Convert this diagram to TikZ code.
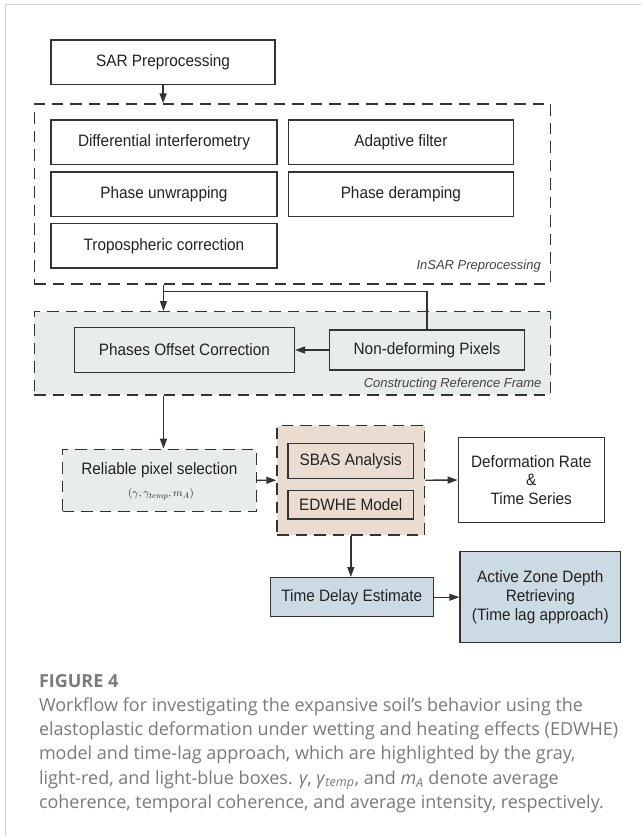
\documentclass[tikz,border=0pt]{standalone}
\usepackage{fontspec}
\setmainfont{Liberation Sans}
\newfontfamily\capfont{Open Sans}
\newfontfamily\diagfont[FakeStretch=0.93]{Liberation Sans}
\usetikzlibrary{arrows.meta}
\definecolor{ln}{HTML}{333333}
\definecolor{tx}{HTML}{222222}
\definecolor{grayfill}{HTML}{E8EDEA}
\definecolor{redfill}{HTML}{EBDCD2}
\definecolor{bluefill}{HTML}{CCDAE4}
\definecolor{capcol}{HTML}{7A7A7A}
\definecolor{framecol}{HTML}{D4D4D4}
\tikzset{
  box/.style={draw=ln, line width=1.4pt, inner sep=0pt, text=tx, align=center,
    font=\diagfont\fontsize{16.5}{18.7}\selectfont},
  dbox/.style={draw=ln, line width=1.4pt, inner sep=0pt, dash pattern=on 11.5pt off 7pt},
  arr/.style={draw=ln, line width=1.4pt, -{Triangle[length=10pt,width=7pt]}},
  conn/.style={draw=ln, line width=1.4pt},
  grouplabel/.style={anchor=east, inner sep=0pt, text=tx!85,
    font=\fontsize{13}{15}\selectfont\itshape},
  capline/.style={anchor=base west, inner sep=0pt, text=capcol,
    font=\capfont\fontsize{18}{24}\selectfont}
}
\begin{document}
\begin{tikzpicture}[x=1pt,y=-1pt]
\useasboundingbox (0,0) rectangle (641,836);
\fill[white] (0,0) rectangle (641,836);
\draw[framecol, line width=1.3pt] (5.7,836) -- (5.7,4.7) -- (641,4.7);

% group frames
\node[dbox, minimum width=516.4pt, minimum height=180pt] (insar) at (292.5,194) {};
\node[dbox, fill=grayfill, minimum width=516.4pt, minimum height=83.3pt] (crf) at (292.5,353.35) {};
\node[dbox, fill=grayfill, minimum width=193.8pt, minimum height=62pt] (rel) at (159.4,480.3) {};
\node[dbox, fill=redfill, minimum width=147.7pt, minimum height=109.5pt] (sbasout) at (350.85,480.25) {};

% boxes
\node[box, minimum width=224pt, minimum height=44.7pt] (sar) at (163.1,62.3) {SAR Preprocessing};
\node[box, minimum width=225.7pt, minimum height=44.7pt] (diff) at (164,142.3) {Differential interferometry};
\node[box, minimum width=225.3pt, minimum height=44.7pt] (adapt) at (400.9,142.3) {Adaptive filter};
\node[box, minimum width=225.7pt, minimum height=44.7pt] (unwrap) at (164,194.2) {Phase unwrapping};
\node[box, minimum width=225.3pt, minimum height=44.7pt] (deramp) at (400.9,194.2) {Phase deramping};
\node[box, minimum width=225.7pt, minimum height=44.7pt] (tropo) at (164,245.8) {Tropospheric correction};
\node[box, minimum width=220pt, minimum height=44.6pt] (poc) at (184.4,350) {Phases Offset Correction};
\node[box, minimum width=195pt, minimum height=40pt] (ndp) at (427,350) {Non-deforming Pixels};
\node[box, fill=redfill, minimum width=125.5pt, minimum height=35pt] (sbas) at (350.75,460.8) {SBAS Analysis};
\node[box, fill=redfill, minimum width=125.5pt, minimum height=28.5pt] (edwhe) at (350.75,504.75) {EDWHE Model};
\node[box, minimum width=145.9pt, minimum height=85.4pt] (defo) at (531.25,480) {Deformation Rate\\\&\\Time Series};
\node[box, fill=bluefill, minimum width=163.2pt, minimum height=39pt] (tde) at (351.8,597.2) {Time Delay Estimate};
\node[box, fill=bluefill, minimum width=160.6pt, minimum height=91pt] (azd) at (540.3,597.2) {Active Zone Depth\\Retrieving\\(Time lag approach)};

% texts inside reliable pixel box
\node[inner sep=0pt, text=tx, font=\diagfont\fontsize{16.5}{18.7}\selectfont] (reltxt) at (159.4,470) {Reliable pixel selection};
\node[inner sep=0pt, text=tx, font=\fontsize{11}{12}\selectfont] (relmath) at (161,494) {$(\gamma,\gamma_{temp},m_A)$};

% group labels
\node[grouplabel] (insarlab) at (541,266) {InSAR Preprocessing};
\node[grouplabel] (crflab) at (541.7,384.3) {Constructing Reference Frame};

% connectors
\coordinate (j) at (163.5,291.7);
\draw[arr] (sar.south) -- (sar.south |- insar.north);
\draw[arr] (j |- insar.south) -- (j |- crf.north);
\draw[conn] (ndp.north) |- (j);
\draw[arr] (ndp.west) -- (poc.east);
\draw[arr] (j |- crf.south) -- (j |- rel.north);
\draw[arr] (rel.east) -- (sbasout.west);
\draw[arr] (sbasout.east) -- (defo.west);
\draw[arr] (sbasout.south) -- (sbasout.south |- tde.north);
\draw[arr] (tde.east) -- (azd.west);

% caption
\node[capline, font=\capfont\bfseries\fontsize{18}{24}\selectfont, text=capcol] (fig) at (38.8,687.3) {FIGURE 4};
\node[capline] (cap1) at (38.8,711.7) {Workflow for investigating the expansive soil’s behavior using the};
\node[capline] (cap2) at (38.8,735.8) {elastoplastic deformation under wetting and heating effects (EDWHE)};
\node[capline] (cap3) at (38.8,759.9) {model and time-lag approach, which are highlighted by the gray,};
\node[capline] (cap4) at (38.8,784) {light-red, and light-blue boxes. \textit{γ}, \textit{γ}\textsubscript{\textit{temp}}, and \textit{m}\textsubscript{\textit{A}} denote average};
\node[capline] (cap5) at (38.8,808.1) {coherence, temporal coherence, and average intensity, respectively.};
\end{tikzpicture}
\end{document}
